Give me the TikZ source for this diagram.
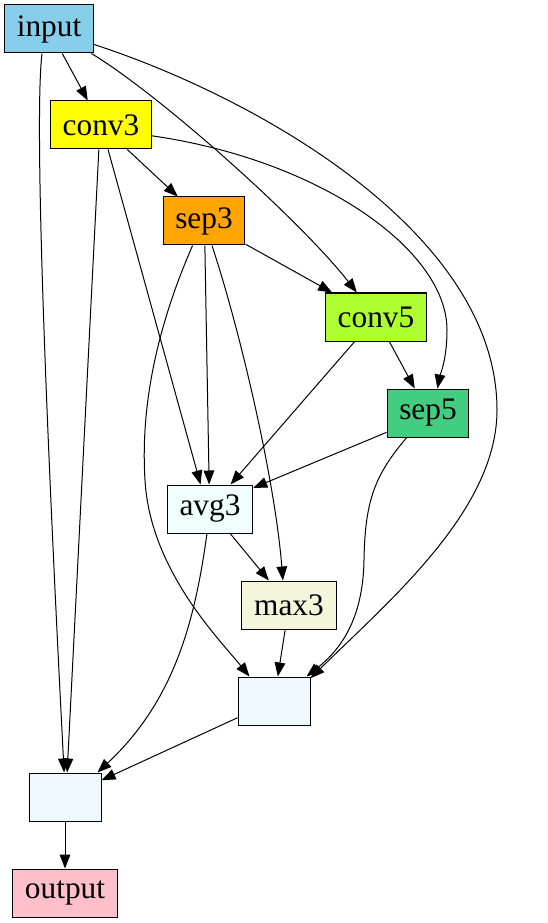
\documentclass[tikz,border=0pt]{standalone}
\usepackage{fontspec}
\setmainfont{Liberation Serif}
\usetikzlibrary{arrows.meta}
\definecolor{inputblue}{RGB}{135,206,235}
\definecolor{convyellow}{RGB}{255,255,0}
\definecolor{seporange}{RGB}{255,165,0}
\definecolor{convgreen}{RGB}{173,255,47}
\definecolor{sepgreen}{RGB}{67,205,128}
\definecolor{avgazure}{RGB}{240,255,255}
\definecolor{maxbeige}{RGB}{245,245,220}
\definecolor{sumblue}{RGB}{240,248,255}
\definecolor{outpink}{RGB}{255,192,203}

\begin{document}
\begin{tikzpicture}[x=0.75pt, y=-0.75pt,
  layer/.style={draw=black, line width=0.75pt, minimum height=36pt, minimum width=54pt,
    inner xsep=9.2pt, font=\fontsize{23.5}{27}\selectfont},
  edge/.style={line width=0.75pt, -{Triangle[length=10.5pt,width=8pt]}}]

% Canvas
\useasboundingbox (0,0) rectangle (548,923);

% Nodes
\node[layer, fill=inputblue] (input) at (49,29) {input};
\node[layer, fill=convyellow] (conv3) at (101,125) {conv3};
\node[layer, fill=seporange] (sep3) at (204,221) {sep3};
\node[layer, fill=convgreen] (conv5) at (376,317) {conv5};
\node[layer, fill=sepgreen] (sep5) at (428,413) {sep5};
\node[layer, fill=avgazure] (avg3) at (210,509) {avg3};
\node[layer, fill=maxbeige] (max3) at (289,605) {max3};
\node[layer, fill=sumblue] (sumA) at (274,701) {};
\node[layer, fill=sumblue] (sumB) at (65,797) {};
\node[layer, fill=outpink] (output) at (65,893) {output};

% Straight edges
\foreach \a/\b in {input/conv3, conv3/sep3, sep3/conv5, conv5/sep5,
  avg3/max3, max3/sumA, sumA/sumB, sumB/output} {
    \draw[edge] (\a) -- (\b);
}
\foreach \a/\b in {conv3.-95/sumB.85, conv3.-74/avg3.111, sep3.-88/avg3.92,
  conv5.-131/avg3.50, sep5.-155/avg3.26} {
    \draw[edge] (\a) -- (\b);
}

% Curved edges
\draw[edge] (input.-106) .. controls (33,130) and (50,500) .. (sumB.92);
\draw[edge] (input.-30) .. controls (160,95) and (300,220) .. (conv5.128);
\draw[edge] (input.-19) .. controls (250,95) and (497,230) .. (497,410)
  .. controls (497,510) and (390,600) .. (sumA.32);
\draw[edge] (conv3.-12) .. controls (320,160) and (447,250) .. (447,330)
  .. controls (447,360) and (440,375) .. (sep5.69);
\draw[edge] (sep3.-72) .. controls (240,330) and (275,480) .. (max3.104);
\draw[edge] (sep3.-115) .. controls (160,320) and (140,400) .. (145,480)
  .. controls (150,570) and (220,640) .. (sumA.135);
\draw[edge] (sep5.-131) .. controls (375,475) and (365,500) .. (364,560)
  .. controls (363,620) and (340,650) .. (sumA.37);
\draw[edge] (avg3.-97) .. controls (195,620) and (175,700) .. (sumB.37);

\end{tikzpicture}
\end{document}
